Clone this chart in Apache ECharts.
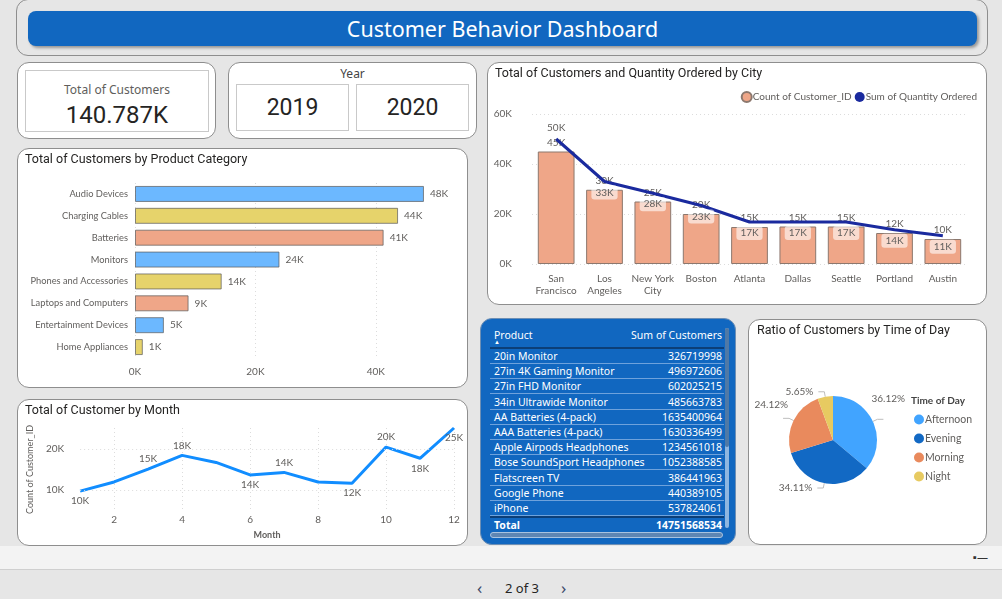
<!DOCTYPE html>
<html>
<head>
<meta charset="utf-8">
<title>Customer Behavior Dashboard</title>
<script src="https://cdn.jsdelivr.net/npm/echarts@6/dist/echarts.min.js"></script>
<style>
  html, body { margin: 0; padding: 0; }
  body { width: 1002px; height: 599px; overflow: hidden; background: #e6e6e6; font-family: "Noto Sans", "Open Sans", sans-serif; position: relative; }
  .panel { position: absolute; background: #fff; border: 1px solid #8e8e8e; border-radius: 12px; box-sizing: border-box; }
  .chart { position: absolute; left: 0; top: 0; width: 100%; height: 100%; }
  #header { left: 16px; top: -1px; width: 972px; height: 57px; background: transparent; }
  #banner { position: absolute; left: 28px; top: 11px; width: 949px; height: 35px; background: #1167c0; border-radius: 8px;
            box-shadow: 2px 2px 3px rgba(0,0,0,0.35); color: #fff; font-size: 21.5px; line-height: 35px; text-align: center; }
  .box { position: absolute; border: 1px solid #c9c9c9; box-sizing: border-box; background: #fff; }
  .cardLabel { position: absolute; width: 100%; text-align: center; font-size: 12px; color: #605e5c; }
  .cardValue { position: absolute; width: 100%; text-align: center; font-family: Roboto, sans-serif; color: #252423; }
  #tablePanel { left: 480px; top: 318px; width: 256px; height: 227px; background: #1167c0; border: 1px solid #6d8fb5; border-radius: 12px; color: #fff; font-size: 10.5px; }
  #tablePanel .row { position: absolute; left: 9px; width: 234px; height: 15px; line-height: 15px; border-bottom: 1px solid #6ea2dc; box-sizing: border-box; }
  #tablePanel .row span.l { position: absolute; left: 4px; }
  #tablePanel .row span.r { position: absolute; right: 2px; }
  #strip { position: absolute; left: 0; top: 546px; width: 1002px; height: 23px; background: #f3f3f3; border-bottom: 1px solid #cfcfcf; }
  .pg { position: absolute; top: 579px; font-size: 13px; color: #252423; }
</style>
</head>
<body>
<div class="panel" id="header"></div>
<div id="banner">Customer Behavior Dashboard</div>

<div class="panel" style="left:17px;top:62px;width:199px;height:77px;"></div>
<div class="box" style="left:25px;top:70px;width:184px;height:62px;">
  <div class="cardLabel" style="top:10px;">Total of Customers</div>
  <div class="cardValue" id="totalValue" style="top:30px;font-size:24px;"></div>
</div>

<div class="panel" style="left:228px;top:62px;width:249px;height:77px;">
  <div class="cardLabel" style="top:2px;color:#444;">Year</div>
</div>
<div class="box" id="year0" style="left:236px;top:84px;width:113px;height:47px;"></div>
<div class="box" id="year1" style="left:356px;top:84px;width:113px;height:47px;"></div>

<div class="panel" style="left:487px;top:62px;width:500px;height:243px;"><div class="chart" id="cityChart"></div></div>
<div class="panel" style="left:17px;top:148px;width:451px;height:240px;"><div class="chart" id="catChart"></div></div>
<div class="panel" style="left:17px;top:399px;width:451px;height:147px;"><div class="chart" id="monthChart"></div></div>
<div class="panel" id="tablePanel"></div>
<div class="panel" style="left:748px;top:319px;width:239px;height:226px;"><div class="chart" id="pieChart"></div></div>

<div id="strip"><span style="position:absolute;left:973px;top:3px;font-size:11px;color:#333;">▪—</span></div>
<span class="pg" style="left:477px;top:576px;font-size:17px;color:#3a4a6a;">&#x2039;</span>
<span class="pg" style="left:505px;">2 of 3</span>
<span class="pg" style="left:561px;top:576px;font-size:17px;color:#3a4a6a;">&#x203A;</span>

<script>
  // ---- data ----
  var totalCustomers = '140.787K';
  var years = ['2019', '2020'];

  var categories = ['Audio Devices', 'Charging Cables', 'Batteries', 'Monitors', 'Phones and Accessories',
                    'Laptops and Computers', 'Entertainment Devices', 'Home Appliances'];
  var categoryCustomers = [48000, 43700, 41300, 24000, 14400, 8900, 4800, 1300];

  var months = ['1', '2', '3', '4', '5', '6', '7', '8', '9', '10', '11', '12'];
  var monthCustomers = [9800, 12000, 15100, 18400, 16700, 13700, 14300, 12000, 11700, 20400, 17700, 25000];

  var cities = ['San\nFrancisco', 'Los\nAngeles', 'New York\nCity', 'Boston', 'Atlanta', 'Dallas', 'Seattle', 'Portland', 'Austin'];
  var cityCustomers = [45000, 29700, 25000, 20000, 14800, 15000, 15000, 12400, 10000];
  var cityQuantity = [50000, 33000, 28300, 23400, 16800, 16800, 16800, 13700, 11300];

  var dayParts = ['Afternoon', 'Evening', 'Morning', 'Night'];
  var dayShares = [36.12, 34.11, 24.12, 5.65];

  var products = ['20in Monitor', '27in 4K Gaming Monitor', '27in FHD Monitor', '34in Ultrawide Monitor',
                  'AA Batteries (4-pack)', 'AAA Batteries (4-pack)', 'Apple Airpods Headphones',
                  'Bose SoundSport Headphones', 'Flatscreen TV', 'Google Phone', 'iPhone'];
  var productSums = [326719998, 496972606, 602025215, 485663783, 1635400964, 1630336499, 1234561018,
                     1052388585, 386441963, 440389105, 537824061];
  var productTotal = 14751568534;

  // ---- styles ----
  var titleFont = 'Roboto, sans-serif';
  var labelFont = 'Lato, "Noto Sans", sans-serif';
  var catColors = ['#6cb8ff', '#e6d36b', '#efa688'];
  var monthLabelPos = ['bottom', '', 'top', 'top', '', 'bottom', 'top', '', 'bottom', 'top', 'bottom', 'bottom'];
  var pieColors = ['#41a4ff', '#1269c4', '#e98a5d', '#e7ca61'];
  // nudges so the pie labels sit where Power BI put them
  var pieLabelShift = [[-17, -21], [0, 0], [10, -14], [0, 0]];

  function fmtK(v) { return Math.round(v / 1000) + 'K'; }
  function titleOpt(text, left) {
    return { text: text, left: left, top: 4, padding: 0,
             textStyle: { fontFamily: titleFont, fontSize: 12.5, fontWeight: 'normal', color: '#252423' } };
  }

  // cards
  document.getElementById('totalValue').textContent = totalCustomers;
  years.forEach(function (y, i) {
    var d = document.createElement('div');
    d.className = 'cardValue';
    d.style.top = '9px';
    d.style.fontSize = '23px';
    d.textContent = y;
    document.getElementById('year' + i).appendChild(d);
  });

  // table
  var tp = document.getElementById('tablePanel');
  var head = document.createElement('div');
  head.className = 'row';
  head.style.top = '9px';
  head.style.height = '21px';
  head.style.borderBottom = '2px solid #0c3f78';
  head.innerHTML = '<span class="l" style="top:0">Product</span><span class="r" style="top:0">Sum of Customers</span>' +
                   '<span class="l" style="top:7px;font-size:6px;">&#9650;</span>';
  tp.appendChild(head);
  products.forEach(function (p, i) {
    var r = document.createElement('div');
    r.className = 'row';
    r.style.top = (30 + i * 15.2) + 'px';
    r.innerHTML = '<span class="l">' + p + '</span><span class="r">' + productSums[i] + '</span>';
    tp.appendChild(r);
  });
  var tot = document.createElement('div');
  tot.className = 'row';
  tot.style.top = (30 + products.length * 15.2) + 'px';
  tot.style.borderTop = '2px solid #0c3f78';
  tot.style.borderBottom = 'none';
  tot.style.fontWeight = 'bold';
  tot.style.height = '17px';
  tot.innerHTML = '<span class="l">Total</span><span class="r">' + productTotal + '</span>';
  tp.appendChild(tot);
  var vs = document.createElement('div');
  vs.style.cssText = 'position:absolute;left:244px;top:9px;width:4px;height:200px;border-radius:2px;background:#8fb6e0;';
  vs.innerHTML = '<div style="width:4px;height:119px;border-radius:2px;background:#4f79a6;"></div>';
  tp.appendChild(vs);
  var hs = document.createElement('div');
  hs.style.cssText = 'position:absolute;left:9px;top:213px;width:233px;height:6px;border-radius:3px;background:#5f86b3;border:1px solid #a9c3e0;box-sizing:border-box;';
  tp.appendChild(hs);

  // bar chart by product category
  var catChart = echarts.init(document.getElementById('catChart'));
  catChart.setOption({
    title: titleOpt('Total of Customers by Product Category', 7),
    grid: { left: 117, top: 34, width: 301, height: 175 },
    xAxis: {
      type: 'value', min: 0, max: 50000, interval: 20000,
      axisLine: { show: false }, axisTick: { show: false },
      axisLabel: { formatter: function (v) { return v / 1000 + 'K'; }, color: '#605e5c', fontSize: 10,
                   fontFamily: labelFont, margin: 9, showMaxLabel: false },
      splitLine: { show: true, showMaxLine: false, lineStyle: { color: '#dcdcdc', type: [1, 3] } }
    },
    yAxis: {
      type: 'category', data: categories, inverse: true,
      axisLine: { show: false }, axisTick: { show: false },
      axisLabel: { color: '#605e5c', fontSize: 9.3, fontFamily: labelFont, margin: 7 }
    },
    series: [{
      type: 'bar', barWidth: 16,
      data: categoryCustomers.map(function (v, i) {
        return { value: v, itemStyle: { color: catColors[i % 3] } };
      }),
      itemStyle: { borderColor: 'rgba(90,90,90,0.7)', borderWidth: 1 },
      label: { show: true, position: 'right', distance: 6, formatter: function (p) { return fmtK(p.value); },
               color: '#605e5c', fontSize: 10, fontFamily: labelFont }
    }]
  });

  // line chart by month
  var monthChart = echarts.init(document.getElementById('monthChart'));
  monthChart.setOption({
    title: titleOpt('Total of Customer by Month', 7),
    grid: { left: 51, top: 28, width: 385, height: 85 },
    xAxis: {
      type: 'category', data: months, boundaryGap: false,
      name: 'Month', nameLocation: 'middle', nameGap: 20,
      nameTextStyle: { color: '#605e5c', fontSize: 9, fontWeight: 'bold', fontFamily: labelFont },
      axisLine: { show: false }, axisTick: { show: false },
      axisLabel: { interval: function (i) { return i % 2 === 1; }, color: '#605e5c', fontSize: 10, fontFamily: labelFont, margin: 4 },
      splitLine: { show: true, interval: function (i) { return i % 2 === 1; }, lineStyle: { color: '#dcdcdc', type: [1, 3] } }
    },
    yAxis: {
      type: 'value', min: 5000, max: 25000, interval: 5000,
      name: 'Count of Customer_ID', nameLocation: 'middle', nameGap: 40, nameRotate: 90,
      nameTextStyle: { color: '#605e5c', fontSize: 9, fontFamily: labelFont },
      axisLine: { show: false }, axisTick: { show: false },
      axisLabel: { formatter: function (v) { return (v === 10000 || v === 20000) ? v / 1000 + 'K' : ''; },
                   color: '#605e5c', fontSize: 10, fontFamily: labelFont, margin: 16 },
      splitLine: { show: false }
    },
    series: [{
      type: 'line', symbol: 'circle', symbolSize: 0,
      lineStyle: { color: '#118dff', width: 3 }, itemStyle: { color: '#118dff' },
      data: monthCustomers.map(function (v, i) {
        return { value: v, label: { show: monthLabelPos[i] !== '', position: monthLabelPos[i] || 'top' } };
      }),
      label: { distance: 5, formatter: function (p) { return fmtK(p.value); }, color: '#605e5c', fontSize: 10, fontFamily: labelFont },
      markLine: {
        silent: true, symbol: 'none', label: { show: false },
        lineStyle: { color: '#dcdcdc', type: [1, 3], width: 1 },
        data: [{ yAxis: 10000 }, { yAxis: 20000 }]
      }
    }]
  });

  // combo chart by city
  var cityChart = echarts.init(document.getElementById('cityChart'));
  cityChart.setOption({
    title: titleOpt('Total of Customers and Quantity Ordered by City', 7),
    legend: {
      right: 4, top: 23, icon: 'circle', itemWidth: 10, itemHeight: 10, itemGap: 3,
      textStyle: { color: '#605e5c', fontSize: 10, fontFamily: labelFont, padding: [0, 0, 0, -4] },
      data: ['Count of Customer_ID', 'Sum of Quantity Ordered']
    },
    grid: { left: 44, top: 51, width: 435, height: 150 },
    xAxis: {
      type: 'category', data: cities,
      axisLine: { show: false }, axisTick: { show: false },
      axisLabel: { interval: 0, color: '#605e5c', fontSize: 10, lineHeight: 12, fontFamily: labelFont, margin: 9 }
    },
    yAxis: {
      type: 'value', min: 0, max: 60000, interval: 20000,
      axisLine: { show: false }, axisTick: { show: false },
      axisLabel: { formatter: function (v) { return v / 1000 + 'K'; }, color: '#605e5c', fontSize: 10, fontFamily: labelFont, margin: 20 },
      splitLine: { lineStyle: { color: '#dcdcdc', type: [1, 3] } }
    },
    series: [{
      name: 'Count of Customer_ID', type: 'bar', barWidth: '76%',
      itemStyle: { color: '#efa688', borderColor: '#8c786e', borderWidth: 1 },
      data: cityCustomers,
      label: { show: true, position: 'top', distance: 4, formatter: function (p) { return fmtK(p.value); },
               color: '#605e5c', fontSize: 10, fontFamily: labelFont }
    }, {
      name: 'Sum of Quantity Ordered', type: 'line', symbol: 'circle', symbolSize: 0,
      lineStyle: { color: '#1a2a9e', width: 3 }, itemStyle: { color: '#1a2a9e' },
      data: cityQuantity.map(function (v, i) {
        return i === 0 ? { value: v, label: { position: 'top' } } : v;
      }),
      label: { show: true, position: 'bottom', distance: 4, formatter: function (p) { return fmtK(p.value); },
               color: '#605e5c', fontSize: 10, fontFamily: labelFont,
               backgroundColor: 'rgba(255,255,255,0.6)', padding: [2, 4], borderRadius: 3 }
    }]
  });

  // pie by time of day
  var pieChart = echarts.init(document.getElementById('pieChart'));
  pieChart.setOption({
    title: titleOpt('Ratio of Customers by Time of Day', 8),
    color: pieColors,
    legend: {
      orient: 'vertical', left: 160, top: 89, icon: 'circle', itemWidth: 10, itemHeight: 10, itemGap: 8,
      textStyle: { color: '#605e5c', fontSize: 10.5, fontFamily: labelFont, padding: [0, 0, 0, -4] },
      data: dayParts
    },
    graphic: [{
      type: 'text', left: 162, top: 76,
      style: { text: 'Time of Day', fill: '#444', font: 'bold 10px Lato, "Noto Sans", sans-serif' }
    }],
    series: [{
      type: 'pie', center: [84, 120], radius: 44, startAngle: 90,
      data: dayParts.map(function (n, i) { return { name: n, value: dayShares[i] }; }),
      label: { formatter: '{d}%', color: '#605e5c', fontSize: 10, fontFamily: labelFont, overflow: 'none' },
      labelLine: { length: 5, length2: 6, lineStyle: { color: '#bdbdbd' } },
      labelLayout: function (p) {
        var s = pieLabelShift[p.dataIndex];
        return { dx: s[0], dy: s[1] };
      },
      itemStyle: { borderColor: '#fff', borderWidth: 0 }
    }]
  });
</script>
</body>
</html>
